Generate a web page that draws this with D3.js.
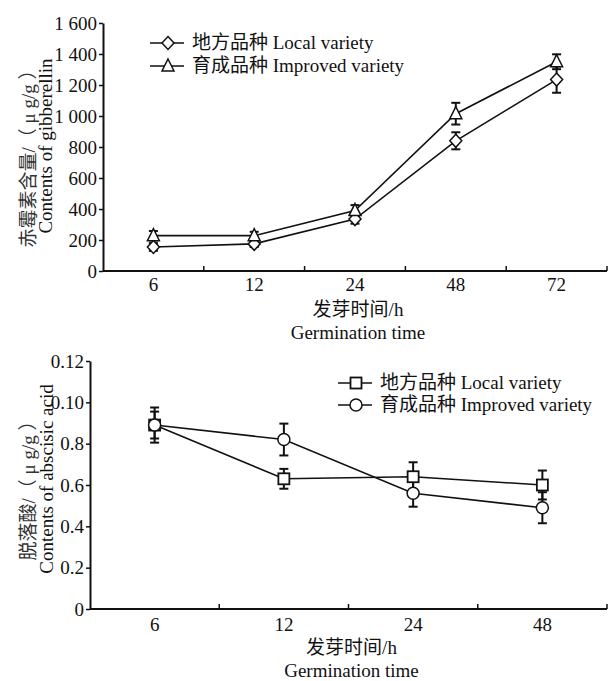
<!DOCTYPE html>
<html><head><meta charset="utf-8">
<script src="https://cdn.jsdelivr.net/npm/d3@7"></script>
<style>
body{margin:0;background:#fff;}
svg text{font-family:"Liberation Serif","Times New Roman",Times,"DejaVu Serif","Noto Sans CJK SC",serif !important;}
</style></head>
<body><svg id="c" width="609" height="681"></svg>
<script>
// ---- Data: gibberellin (top panel)
const gaTimes = ["6","12","24","48","72"];
const gaLocal = [155, 175, 335, 840, 1235];
const gaLocalErr = [25, 20, 30, 55, 85];
const gaImproved = [228, 228, 390, 1015, 1350];
const gaImprovedErr = [30, 25, 35, 70, 48];
const gaTickValues = [0,200,400,600,800,1000,1200,1400,1600];
const gaTickLabels = ["0","200","400","600","800","1 000","1 200","1 400","1 600"];

// ---- Data: abscisic acid (bottom panel)
const abaTimes = ["6","12","24","48"];
const abaLocal = [0.89, 0.63, 0.64, 0.60];
const abaLocalErr = [0.085, 0.048, 0.07, 0.07];
const abaImproved = [0.89, 0.82, 0.56, 0.49];
const abaImprovedErr = [0.065, 0.077, 0.065, 0.075];
const abaTickValues = [0,0.2,0.4,0.6,0.8,1.0,1.2];
const abaTickLabels = ["0","0.2","0.4","0.6","0.8","0.10","0.12"];

const legendLocal = "地方品种 Local variety";
const legendImproved = "育成品种 Improved variety";

const FONT = '"Liberation Serif","Times New Roman",Times,"DejaVu Serif","Noto Sans CJK SC",serif';
const svg = d3.select("#c").attr("font-family", FONT);
const FS = 19;

function marker(g, type, cx, cy){
  if(type==="diamond"){
    g.append("path").attr("d",`M${cx},${cy-6.5}L${cx+6},${cy}L${cx},${cy+6.5}L${cx-6},${cy}Z`)
     .attr("fill","#fff").attr("stroke","#111").attr("stroke-width",1.5);
  } else if(type==="triangle"){
    g.append("path").attr("d",`M${cx},${cy-7}L${cx+6},${cy+5}L${cx-6},${cy+5}Z`)
     .attr("fill","#fff").attr("stroke","#111").attr("stroke-width",1.5);
  } else if(type==="square"){
    g.append("rect").attr("x",cx-5.5).attr("y",cy-5.5).attr("width",11).attr("height",11)
     .attr("fill","#fff").attr("stroke","#111").attr("stroke-width",1.8);
  } else if(type==="circle"){
    g.append("circle").attr("cx",cx).attr("cy",cy).attr("r",6)
     .attr("fill","#fff").attr("stroke","#111").attr("stroke-width",1.5);
  }
}

function panel(cfg){
  const g = svg.append("g");
  const x = d3.scaleBand().domain(cfg.cats).range([cfg.x0, cfg.x1]).padding(0);
  const y = d3.scaleLinear().domain([0, cfg.ymax]).range([cfg.y0, cfg.y1]);

  // y axis
  const ya = d3.axisLeft(y).tickValues(cfg.tickValues)
     .tickFormat((d,i)=>cfg.tickLabels[i]).tickSize(4).tickSizeOuter(0).tickPadding(2);
  const yg = g.append("g").attr("transform",`translate(${cfg.x0},0)`).call(ya)
     .attr("font-family", FONT).attr("font-size", FS);
  yg.select(".domain").attr("stroke","#111").attr("stroke-width",2);
  yg.selectAll(".tick line").attr("stroke","#111").attr("stroke-width",1.5);
  yg.selectAll(".tick text").attr("fill","#111");

  // x axis labels
  const xa = d3.axisBottom(x).tickSize(0).tickPadding(cfg.xPad);
  const xg = g.append("g").attr("transform",`translate(0,${cfg.y0})`).call(xa)
     .attr("font-family", FONT).attr("font-size", FS);
  xg.select(".domain").attr("stroke","#111").attr("stroke-width",2)
    .attr("d",`M${cfg.x0},0H${cfg.x1}`);
  xg.selectAll(".tick text").attr("fill","#111");
  // inward tick marks at band boundaries
  const bounds = cfg.cats.map(c => x(c) + x.bandwidth());
  g.selectAll(".bt").data(bounds).join("line")
    .attr("x1",d=>d).attr("x2",d=>d).attr("y1",cfg.y0).attr("y2",cfg.y0-5)
    .attr("stroke","#111").attr("stroke-width",1.5);

  // axis titles
  const cx = (cfg.x0+cfg.x1)/2;
  g.append("text").attr("x",cx+3).attr("y",cfg.xt1).attr("text-anchor","middle")
    .attr("font-size",FS).attr("fill","#111").text("发芽时间/h");
  g.append("text").attr("x",cx+3).attr("y",cfg.xt2).attr("text-anchor","middle")
    .attr("font-size",FS).attr("fill","#111").text("Germination time");
  const cy = (cfg.y0+cfg.y1)/2;
  g.append("text").attr("transform",`translate(${cfg.yt1x},${cy+cfg.yt1dy}) rotate(-90)`)
    .attr("text-anchor","middle").attr("font-size",FS).attr("fill","#333").text(cfg.ytitleCN);
  g.append("text").attr("transform",`translate(${cfg.yt2x},${cy+cfg.yt2dy}) rotate(-90)`)
    .attr("text-anchor","middle").attr("font-size",FS).attr("fill","#111").text(cfg.ytitleEN);

  // series
  const line = d3.line().x((d,i)=>x(cfg.cats[i])+x.bandwidth()/2).y(d=>y(d));
  cfg.series.forEach(s=>{
    g.append("path").datum(s.values).attr("d",line)
      .attr("fill","none").attr("stroke","#111").attr("stroke-width",1.6);
  });
  cfg.series.forEach(s=>{
    s.values.forEach((v,i)=>{
      const px = x(cfg.cats[i])+x.bandwidth()/2;
      const e = s.err[i];
      const ytop = y(v+e), ybot = y(v-e);
      g.append("line").attr("x1",px).attr("x2",px).attr("y1",ytop).attr("y2",ybot)
        .attr("stroke","#111").attr("stroke-width",2);
      [ytop,ybot].forEach(yy=>g.append("line").attr("x1",px-4.5).attr("x2",px+4.5)
        .attr("y1",yy).attr("y2",yy).attr("stroke","#111").attr("stroke-width",2));
    });
  });
  cfg.series.forEach(s=>{
    s.values.forEach((v,i)=>{
      marker(g, s.marker, x(cfg.cats[i])+x.bandwidth()/2, y(v));
    });
  });

  // legend
  cfg.series.forEach((s,i)=>{
    const ly = cfg.ly + i*cfg.lstep;
    g.append("line").attr("x1",cfg.lx).attr("x2",cfg.lx+34).attr("y1",ly).attr("y2",ly)
      .attr("stroke","#111").attr("stroke-width",1.6);
    marker(g, s.marker, cfg.lx+18, ly);
    g.append("text").attr("x",cfg.lx+42).attr("y",ly+6).attr("font-size",FS)
      .attr("fill","#111").text(s.name);
  });
}

panel({
  cats: gaTimes, x0:103, x1:607, y0:271, y1:23, ymax:1600, xPad:7,
  tickValues: gaTickValues, tickLabels: gaTickLabels,
  xt1:316, xt2:339,
  ytitleCN:"赤霉素含量/（ μ g/g ）", ytitleEN:"Contents of gibberellin",
  yt1x:35, yt1dy:7, yt2x:52, yt2dy:-1,
  series:[
    {name:legendLocal, values:gaLocal, err:gaLocalErr, marker:"diamond"},
    {name:legendImproved, values:gaImproved, err:gaImprovedErr, marker:"triangle"}
  ],
  lx:150, ly:43, lstep:23
});

panel({
  cats: abaTimes, x0:90, x1:607, y0:609, y1:361, ymax:1.2, xPad:9,
  tickValues: abaTickValues, tickLabels: abaTickLabels,
  xt1:654, xt2:677,
  ytitleCN:"脱落酸/（ μ g/g ）", ytitleEN:"Contents of abscisic acid",
  yt1x:35, yt1dy:1, yt2x:53, yt2dy:-6,
  series:[
    {name:legendLocal, values:abaLocal, err:abaLocalErr, marker:"square"},
    {name:legendImproved, values:abaImproved, err:abaImprovedErr, marker:"circle"}
  ],
  lx:338, ly:383, lstep:22
});
</script></body></html>
